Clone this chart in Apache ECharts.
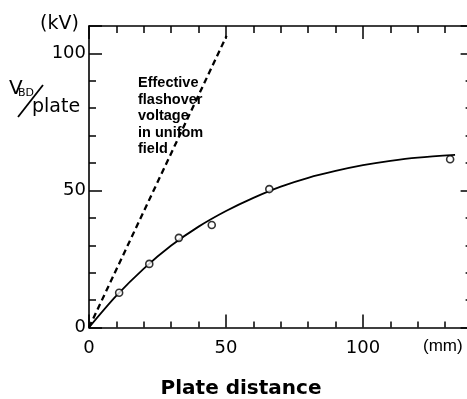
<!DOCTYPE html>
<html><head><meta charset="utf-8">
<script src="https://cdn.jsdelivr.net/npm/echarts@6/dist/echarts.min.js"></script>
<style>html,body{margin:0;padding:0;background:#fff}#c{width:467px;height:399px}</style>
</head><body><div id="c"></div>
<script>
// measured points (plate distance mm, V_BD per plate kV)
const pointX = [11, 22, 32.8, 44.8, 65.8, 131.8];
const pointY = [12.7, 23.2, 32.7, 37.4, 50.5, 61.4];
// fitted curve
const curveX = [0, 10, 20, 30, 40, 50, 60, 70, 80, 90, 100, 110, 120, 133.6];
const curveY = [0, 11.6, 21.5, 29.9, 36.8, 42.5, 47.3, 51.4, 54.6, 57.1, 59.2, 60.8, 62.0, 63.0];
// effective flashover voltage in uniform field
const uniformX = [0, 50.2];
const uniformY = [0, 106.4];
const xTickLabels = [0, 50, 100];
const yTickLabels = [0, 50, 100];

const zip = (a, b) => a.map((v, i) => [v, b[i]]);
const chart = echarts.init(document.getElementById('c'), null, {renderer: 'canvas'});
const lineStyle = {color: '#000', width: 1.6};
const tickStyle = {color: '#000', width: 1.5};
const mkX = (grid, pos, interval, len, showLine, showLabel, inside) => ({
  type: 'value', gridIndex: grid, position: pos, min: 0, max: 140, interval: interval,
  axisLine: pos === 'top' ? {show: showLine, onZero: false, lineStyle: lineStyle} : {show: showLine, lineStyle: lineStyle},
  axisTick: {show: true, inside: inside, length: len, lineStyle: tickStyle},
  axisLabel: showLabel ? {
    show: true, margin: 12, fontSize: 18, fontFamily: 'DejaVu Sans', color: '#000',
    formatter: v => xTickLabels.includes(v) ? String(v) : ''
  } : {show: false},
  splitLine: {show: false}
});
const mkY = (grid, pos, interval, len, showLine, showLabel) => ({
  type: 'value', gridIndex: grid, position: pos, min: 0, max: 110, interval: interval,
  axisLine: pos === 'right' ? {show: showLine, onZero: false, lineStyle: lineStyle} : {show: showLine, lineStyle: lineStyle},
  axisTick: {show: true, inside: true, length: len, lineStyle: tickStyle},
  axisLabel: showLabel ? {
    show: true, margin: 3, fontSize: 18, fontFamily: 'DejaVu Sans', color: '#000',
    formatter: v => yTickLabels.includes(v) ? String(v) : ''
  } : {show: false},
  splitLine: {show: false}
});
const hiddenY = (grid) => ({type: 'value', gridIndex: grid, min: 0, max: 1, show: false});
const gridBox = {left: 89, top: 26, right: -5.6, bottom: 71.5, containLabel: false, outerBoundsMode: 'none'};
// strip whose top edge sits on the bottom axis line: its top axis carries the upward bottom ticks
const stripBox = {left: 89, top: 327.5, right: -5.6, bottom: 40, containLabel: false, outerBoundsMode: 'none'};

chart.setOption({
  animation: false,
  backgroundColor: '#fff',
  grid: [gridBox, gridBox, gridBox, gridBox, stripBox, stripBox].map(g => Object.assign({}, g)),
  xAxis: [
    Object.assign(mkX(0, 'bottom', 10, 6, true, true, true), {axisTick: {show: false}}),
    Object.assign(mkX(1, 'bottom', 50, 13, false, false, true), {show: false}),
    mkX(2, 'top', 10, 7, true, false, true),
    mkX(3, 'top', 50, 13, false, false, true),
    mkX(4, 'top', 10, 6, false, false, false),
    mkX(5, 'top', 50, 13, false, false, false)
  ],
  yAxis: [
    mkY(0, 'left', 10, 7, true, true),
    mkY(1, 'left', 50, 13, false, false),
    mkY(2, 'right', 10, 7, true, false),
    mkY(3, 'right', 50, 12, false, false),
    hiddenY(4),
    hiddenY(5)
  ],
  series: [
    {type: 'line', xAxisIndex: 0, yAxisIndex: 0, data: zip(curveX, curveY), smooth: 0.3,
     showSymbol: false, symbol: 'none', lineStyle: {color: '#000', width: 1.8}, z: 3},
    {type: 'line', xAxisIndex: 0, yAxisIndex: 0, data: zip(uniformX, uniformY), showSymbol: false, symbol: 'none',
     lineStyle: {color: '#000', width: 2.3, type: [6, 4]}, z: 3},
    {type: 'scatter', xAxisIndex: 0, yAxisIndex: 0, data: zip(pointX, pointY), symbol: 'circle', symbolSize: 7,
     itemStyle: {color: '#fff', borderColor: '#000', borderWidth: 1.6}, z: 4}
  ],
  graphic: [
    {type: 'text', x: 40, y: 15, style: {text: '(kV)', font: '19px "DejaVu Sans"', fill: '#000'}},
    {type: 'text', x: 9, y: 79, style: {text: 'V', font: '20px "DejaVu Sans"', fill: '#000'}},
    {type: 'text', x: 18, y: 88, style: {text: 'BD', font: '11px "DejaVu Sans"', fill: '#000'}},
    {type: 'line', shape: {x1: 18, y1: 117, x2: 43, y2: 85}, style: {stroke: '#000', lineWidth: 1.8}},
    {type: 'text', x: 32, y: 98, style: {text: 'plate', font: '19px "DejaVu Sans"', fill: '#000'}},
    {type: 'text', x: 423, y: 338, style: {text: '(mm)', font: '17px "Liberation Sans"', fill: '#000'}},
    {type: 'text', x: 241, y: 389, style: {text: 'Plate distance', font: 'bold 20px "DejaVu Sans"', fill: '#000', align: 'center', verticalAlign: 'middle'}},
    {type: 'text', x: 138, y: 75, style: {text: 'Effective\nflashover\nvoltage\nin unifom\nfield', font: 'bold 14.5px "Liberation Sans"', lineHeight: 16.5, fill: '#000'}}
  ]
});
</script></body></html>
